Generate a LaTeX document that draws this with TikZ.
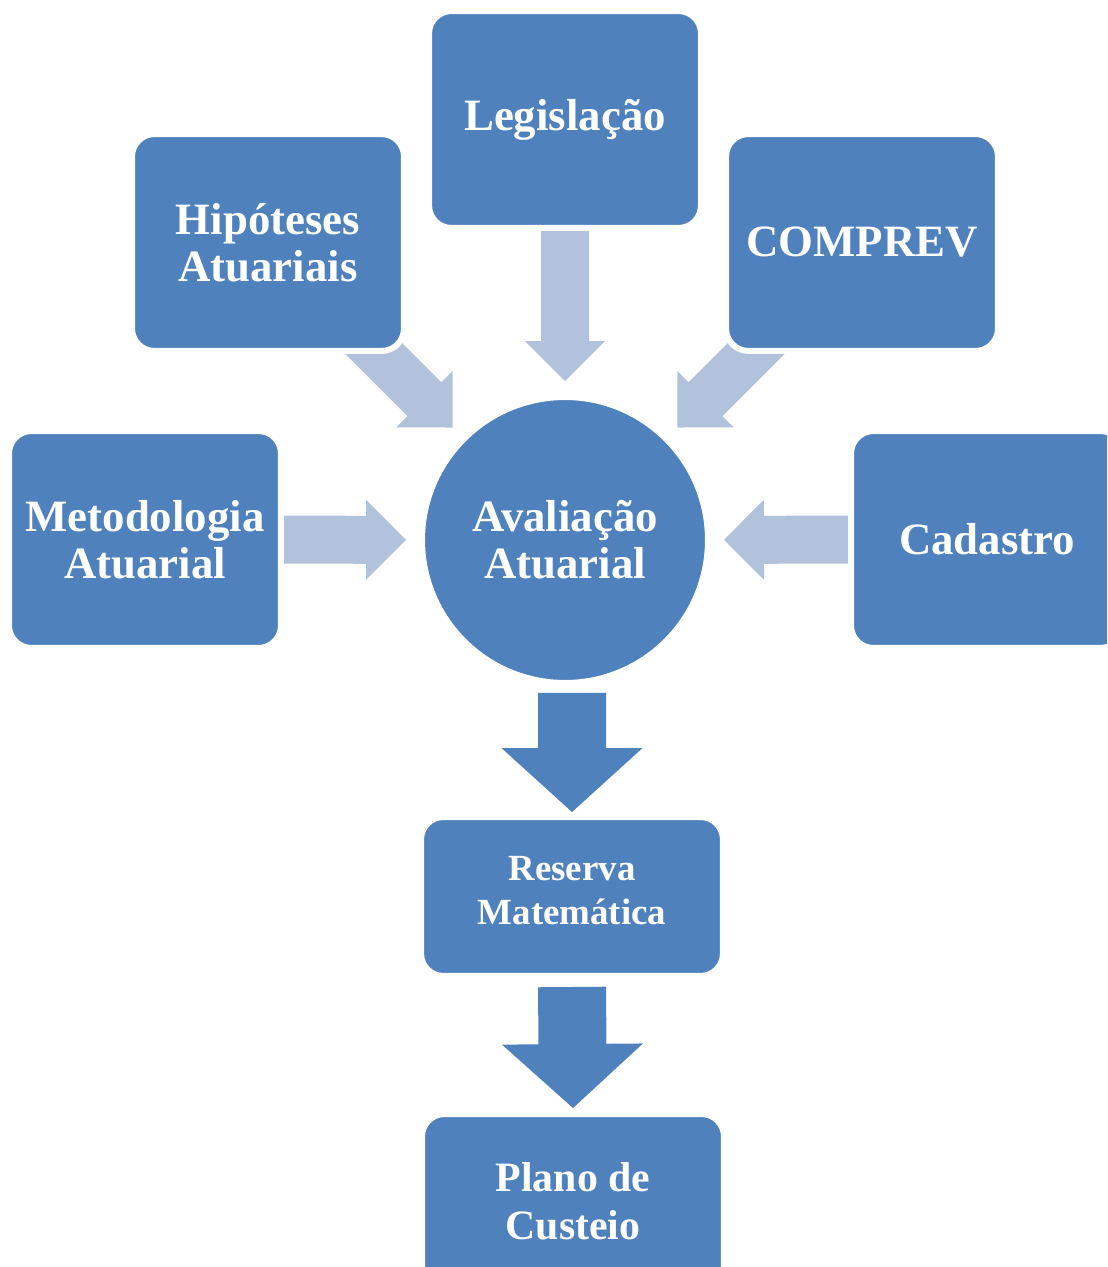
\documentclass[tikz,border=0pt]{standalone}
\usepackage{fontspec}
\setmainfont{Liberation Serif}
\usepackage{tikz}
\usetikzlibrary{calc}
\usetikzlibrary{backgrounds}
\definecolor{boxblue}{HTML}{4F81BD}
\definecolor{arrowblue}{HTML}{B2C1DC}
\tikzset{topic/.style={rectangle, rounded corners=.45cm, fill=boxblue, draw=white, line width=.12cm, text=white, align=center, minimum width=5.44cm, minimum height=4.34cm, font=\fontsize{25.5}{26.6}\selectfont\bfseries}}
\newcommand{\blockarrow}[6]{%
  \coordinate (ba-s) at #2;
  \coordinate (ba-t) at #3;
  \coordinate (ba-c) at ($(ba-t)!#6!(ba-s)$);
  \fill[#1] ($(ba-s)!#4!90:(ba-t)$) -- ($(ba-c)!#4!-90:(ba-s)$) -- ($(ba-c)!#5!-90:(ba-s)$) -- (ba-t)
    -- ($(ba-c)!#5!90:(ba-s)$) -- ($(ba-c)!#4!90:(ba-s)$) -- ($(ba-s)!#4!-90:(ba-t)$) -- cycle;
}

\begin{document}
\begin{tikzpicture}[x=.02cm,y=-.02cm]
    \useasboundingbox (0,0) rectangle (1107,1267);
    \clip (0,0) rectangle (1107,1267);
    \foreach \x/\y/\lab/\tx in {
      565/119.5/legis/Legislação,
      268/242.5/hipo/{Hipóteses\\Atuariais},
      862/242.5/comprev/COMPREV,
      145/539.5/metod/{Metodologia\\Atuarial},
      987/539.5/cadastro/Cadastro%
    } {
      \node[topic] (\lab) at (\x, \y) {\tx};
    }
    \node[topic, circle, minimum size=5.72cm, inner sep=0pt] (aval) at (565, 540) {Avaliação\\Atuarial};
    \node[topic, minimum width=6.04cm, minimum height=3.18cm, text depth=.26cm, font=\fontsize{21}{25}\selectfont\bfseries] (resm) at (572, 896.5) {Reserva\\Matemática};
    \node[topic, minimum width=6.04cm, minimum height=3.48cm, font=\fontsize{23.8}{27.2}\selectfont\bfseries] (plano) at (573, 1201) {Plano de\\Custeio};
    \begin{pgfonlayer}{background}
      \foreach \src in {legis, hipo, comprev, metod, cadastro}{
        \blockarrow{arrowblue}{(\src)}{($(aval)!3.18cm!(\src)$)}{.48cm}{.8cm}{.8cm}
      }
      \blockarrow{boxblue}{($(aval.south -| resm)+(0,7)$)}{($(resm.north)+(0,-2)$)}{.68cm}{1.41cm}{1.28cm}
      \blockarrow{boxblue}{($(resm.south)+(0,8)$)}{($(plano.north)+(0,-3)$)}{.68cm}{1.41cm}{1.28cm}
    \end{pgfonlayer}
  \end{tikzpicture}
\end{document}
